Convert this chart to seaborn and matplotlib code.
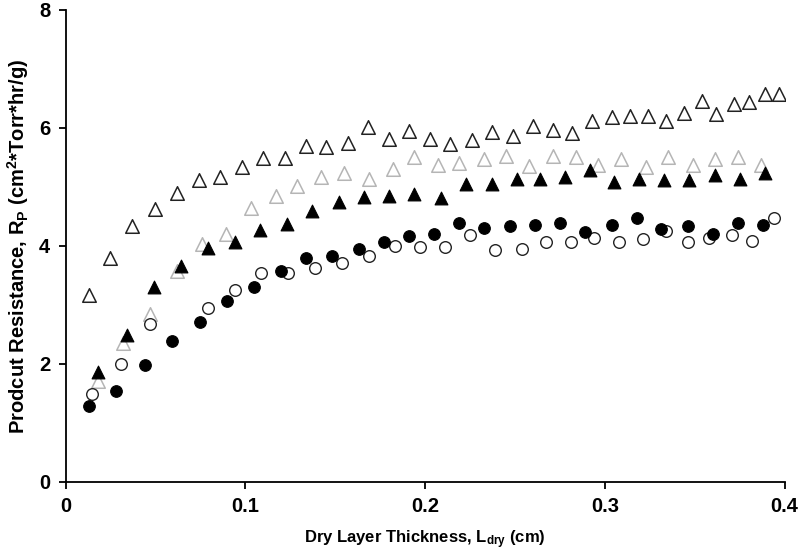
import numpy as np
import pandas as pd
import matplotlib
matplotlib.use('Agg')
import matplotlib.pyplot as plt
import seaborn as sns

# open black triangles
x_a = [0.013, 0.025, 0.037, 0.050, 0.062, 0.074, 0.086, 0.098, 0.110, 0.122, 0.134, 0.145,
       0.157, 0.168, 0.180, 0.191, 0.203, 0.214, 0.226, 0.237, 0.249, 0.260, 0.271, 0.282,
       0.293, 0.304, 0.314, 0.324, 0.334, 0.344, 0.354, 0.362, 0.372, 0.380, 0.389, 0.397]
y_a = [3.16, 3.79, 4.33, 4.62, 4.90, 5.11, 5.17, 5.34, 5.49, 5.49, 5.69, 5.67,
       5.75, 6.01, 5.82, 5.94, 5.81, 5.72, 5.79, 5.93, 5.86, 6.04, 5.97, 5.92,
       6.11, 6.18, 6.21, 6.21, 6.12, 6.25, 6.46, 6.23, 6.41, 6.44, 6.58, 6.58]

# open grey triangles
x_b = [0.018, 0.032, 0.047, 0.062, 0.076, 0.089, 0.103, 0.117, 0.129, 0.142, 0.155, 0.169,
       0.182, 0.194, 0.207, 0.219, 0.233, 0.245, 0.258, 0.271, 0.284, 0.296, 0.309, 0.323,
       0.335, 0.349, 0.361, 0.374, 0.387]
y_b = [1.71, 2.36, 2.84, 3.57, 4.03, 4.20, 4.64, 4.84, 5.01, 5.16, 5.24, 5.13,
       5.31, 5.50, 5.38, 5.41, 5.48, 5.52, 5.35, 5.52, 5.51, 5.38, 5.48, 5.34,
       5.51, 5.37, 5.48, 5.50, 5.38]

# filled triangles
x_c = [0.018, 0.034, 0.049, 0.064, 0.079, 0.094, 0.108, 0.123, 0.137, 0.152, 0.166, 0.180,
       0.194, 0.209, 0.223, 0.237, 0.251, 0.264, 0.278, 0.292, 0.305, 0.319, 0.333, 0.347,
       0.361, 0.375, 0.389]
y_c = [1.87, 2.49, 3.31, 3.66, 3.97, 4.07, 4.27, 4.37, 4.60, 4.74, 4.83, 4.85,
       4.88, 4.82, 5.05, 5.05, 5.13, 5.13, 5.16, 5.29, 5.09, 5.14, 5.11, 5.11,
       5.21, 5.14, 5.24]

# filled circles
x_d = [0.013, 0.028, 0.044, 0.059, 0.075, 0.090, 0.105, 0.120, 0.134, 0.148, 0.163, 0.177,
       0.191, 0.205, 0.219, 0.233, 0.247, 0.261, 0.275, 0.289, 0.304, 0.318, 0.331, 0.346,
       0.360, 0.374, 0.388]
y_d = [1.29, 1.54, 1.98, 2.38, 2.71, 3.06, 3.30, 3.58, 3.80, 3.83, 3.95, 4.07,
       4.16, 4.21, 4.38, 4.31, 4.34, 4.35, 4.39, 4.23, 4.35, 4.48, 4.28, 4.34,
       4.20, 4.38, 4.35]

# open circles
x_e = [0.015, 0.031, 0.047, 0.079, 0.094, 0.109, 0.124, 0.139, 0.154, 0.169, 0.183, 0.197,
       0.211, 0.225, 0.239, 0.254, 0.267, 0.281, 0.294, 0.308, 0.321, 0.334, 0.346, 0.358,
       0.371, 0.382, 0.394]
y_e = [1.49, 1.99, 2.68, 2.95, 3.26, 3.54, 3.54, 3.62, 3.71, 3.83, 4.00, 3.99,
       3.98, 4.19, 3.93, 3.95, 4.07, 4.07, 4.14, 4.07, 4.11, 4.26, 4.07, 4.14,
       4.19, 4.09, 4.47]

plt.rcParams['font.family'] = ['Liberation Sans', 'DejaVu Sans']
plt.rcParams['mathtext.fontset'] = 'custom'
plt.rcParams['mathtext.rm'] = 'Liberation Sans:bold'
plt.rcParams['mathtext.it'] = 'Liberation Sans:bold'
plt.rcParams['mathtext.bf'] = 'Liberation Sans:bold'
plt.rcParams['mathtext.default'] = 'rm'

fig = plt.figure(figsize=(7.99, 5.52), dpi=100)
ax = fig.add_axes([0.082, 0.127, 0.9, 0.855])

sns.scatterplot(x=x_a, y=y_a, marker='^', s=95, facecolor='white', edgecolor='#222222',
                linewidth=1.1, ax=ax, zorder=3)
sns.scatterplot(x=x_b, y=y_b, marker='^', s=95, facecolor='white', edgecolor='#b5b5b5',
                linewidth=1.1, ax=ax, zorder=2)
sns.scatterplot(x=x_c, y=y_c, marker='^', s=85, facecolor='black', edgecolor='black',
                linewidth=0.8, ax=ax, zorder=4)
sns.scatterplot(x=x_d, y=y_d, marker='o', s=70, facecolor='black', edgecolor='black',
                linewidth=0.8, ax=ax, zorder=4)
sns.scatterplot(x=x_e, y=y_e, marker='o', s=70, facecolor='white', edgecolor='#222222',
                linewidth=1.0, ax=ax, zorder=3)

ax.set_xlim(0, 0.4)
ax.set_ylim(0, 8)
ax.set_xticks([0, 0.1, 0.2, 0.3, 0.4])
ax.set_xticklabels(['0', '0.1', '0.2', '0.3', '0.4'])
ax.set_yticks([0, 2, 4, 6, 8])
for s in ['top', 'right']:
    ax.spines[s].set_visible(False)
for s in ['left', 'bottom']:
    ax.spines[s].set_linewidth(1.3)
    ax.spines[s].set_color('black')
ax.tick_params(direction='out', length=5, width=1.3, labelsize=14.5, pad=6)
for lab in ax.get_xticklabels() + ax.get_yticklabels():
    lab.set_fontweight('bold')

ax.set_xlabel('Dry Layer Thickness, L$_{dry}$ (cm)', fontsize=12, fontweight='bold', labelpad=9)
ax.set_ylabel('Prodcut Resistance, R$_{P}$ (cm$^{2}$*Torr*hr/g)', fontsize=14.5,
              fontweight='bold', labelpad=6)

fig.savefig('out.png', dpi=100)
